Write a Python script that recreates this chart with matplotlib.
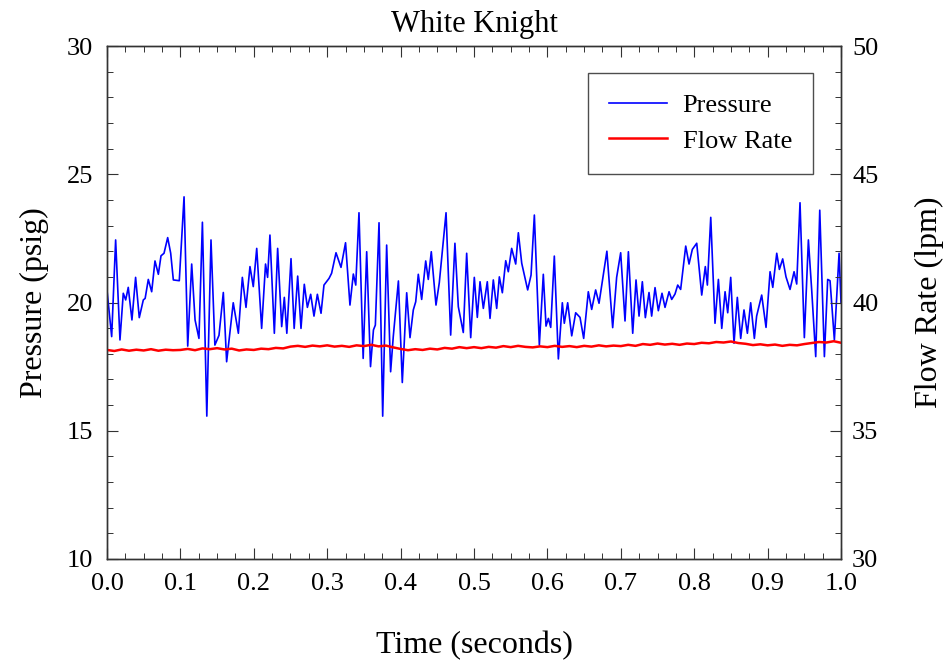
import numpy as np
import matplotlib
matplotlib.use("Agg")
import matplotlib.pyplot as plt
from matplotlib.ticker import MultipleLocator

plt.rcParams['font.family'] = ['Liberation Serif', 'DejaVu Serif']

# pressure trace (time s, psig)
p_time = [0.0, 0.0064, 0.0118, 0.0177, 0.0222, 0.0255, 0.029, 0.034, 0.039, 0.044,
          0.0495, 0.052, 0.0563, 0.0609, 0.0654, 0.070, 0.0736, 0.0777, 0.0827, 0.0868,
          0.0904, 0.0985, 0.105, 0.110, 0.1154, 0.120, 0.1253, 0.130, 0.136, 0.1417,
          0.147, 0.1526, 0.1585, 0.163, 0.172, 0.179, 0.1844, 0.1894, 0.1948, 0.1993,
          0.204, 0.2107, 0.216, 0.2188, 0.222, 0.228, 0.2325, 0.238, 0.2416, 0.245,
          0.2507, 0.255, 0.2598, 0.2643, 0.2688, 0.273, 0.2775, 0.282, 0.2866, 0.2916,
          0.2956, 0.3025, 0.306, 0.312, 0.3188, 0.325, 0.331, 0.3356, 0.3389, 0.3433,
          0.349, 0.3538, 0.359, 0.363, 0.3656, 0.3706, 0.3756, 0.381, 0.3864, 0.390,
          0.397, 0.4023, 0.4083, 0.4128, 0.4173, 0.4206, 0.4241, 0.4287, 0.4342, 0.4377,
          0.4418, 0.4482, 0.4527, 0.4619, 0.4682, 0.474, 0.4786, 0.4854, 0.490, 0.4955,
          0.5004, 0.5045, 0.5082, 0.5127, 0.5181, 0.5218, 0.5263, 0.5309, 0.5345, 0.5386,
          0.5432, 0.5467, 0.5513, 0.5568, 0.5604, 0.565, 0.5731, 0.5777, 0.5822, 0.589,
          0.5944, 0.5981, 0.6013, 0.6045, 0.6094, 0.6149, 0.6203, 0.623, 0.6276, 0.6331,
          0.6385, 0.6444, 0.6494, 0.6557, 0.6603, 0.6657, 0.6703, 0.681, 0.6889, 0.6943,
          0.6998, 0.7057, 0.7103, 0.7162, 0.7207, 0.7248, 0.7293, 0.7334, 0.7384, 0.742,
          0.7466, 0.7511, 0.7561, 0.7602, 0.7657, 0.7693, 0.7738, 0.7775, 0.7815, 0.7884,
          0.7929, 0.7974, 0.8034, 0.8102, 0.8151, 0.8179, 0.8225, 0.8283, 0.8329, 0.8375,
          0.842, 0.8456, 0.8497, 0.8542, 0.8587, 0.8633, 0.8678, 0.8724, 0.8769, 0.8819,
          0.885, 0.8919, 0.8978, 0.9033, 0.907, 0.9124, 0.916, 0.9205, 0.925, 0.9305,
          0.936, 0.9396, 0.9441, 0.950, 0.9555, 0.960, 0.9655, 0.971, 0.9773, 0.9818,
          0.985, 0.9909, 0.9973, 1.0]
pressure = [20.49, 18.67, 22.44, 18.54, 20.36, 20.10, 20.59, 19.32, 20.98, 19.41,
            20.10, 20.16, 20.90, 20.42, 21.62, 21.10, 21.82, 21.92, 22.53, 21.92,
            20.88, 20.85, 24.12, 18.30, 21.50, 19.32, 18.60, 23.13, 15.57, 22.44,
            18.34, 18.72, 20.39, 17.69, 19.99, 18.80, 20.98, 19.81, 21.40, 20.62,
            22.11, 18.99, 21.50, 20.98, 22.63, 18.80, 22.11, 19.06, 20.20, 18.80,
            21.71, 18.99, 21.03, 18.99, 20.71, 19.81, 20.32, 19.47, 20.32, 19.58,
            20.68, 20.94, 21.14, 21.94, 21.37, 22.33, 19.90, 21.11, 20.68, 23.50,
            17.82, 21.98, 17.50, 18.93, 19.12, 23.11, 15.57, 22.24, 17.30, 18.67,
            20.84, 16.88, 20.38, 18.63, 19.71, 20.03, 21.10, 20.12, 21.62, 20.90,
            21.98, 19.90, 20.77, 23.50, 18.73, 22.31, 19.84, 18.83, 21.92, 18.63,
            20.98, 19.42, 20.81, 19.77, 20.81, 19.38, 20.88, 19.77, 21.00, 20.38,
            21.63, 21.20, 22.11, 21.50, 22.72, 21.53, 20.49, 21.07, 23.41, 18.34,
            21.10, 19.08, 19.38, 19.03, 21.81, 17.80, 19.99, 19.19, 19.99, 18.70,
            19.60, 19.42, 18.60, 20.42, 19.73, 20.49, 19.97, 22.00, 19.02, 20.98,
            21.94, 19.28, 21.98, 18.80, 20.88, 19.47, 20.81, 19.41, 20.39, 19.47,
            20.58, 19.68, 20.36, 19.81, 20.42, 20.12, 20.33, 20.68, 20.51, 22.20,
            21.50, 22.07, 22.31, 20.29, 21.40, 20.68, 23.32, 19.19, 20.90, 18.99,
            20.42, 19.60, 20.98, 18.41, 20.20, 18.60, 19.71, 18.80, 19.99, 18.60,
            19.47, 20.29, 19.03, 21.20, 20.59, 21.92, 21.29, 21.70, 21.00, 20.51,
            21.20, 20.72, 23.89, 18.63, 22.44, 20.49, 17.89, 23.60, 17.89, 20.90,
            20.85, 18.54, 21.92, 19.97]

# flow rate, sampled every 0.01 s (lpm)
flow = [38.15, 38.11, 38.17, 38.12, 38.16, 38.13, 38.18, 38.12, 38.16, 38.14,
        38.15, 38.19, 38.14, 38.21, 38.18, 38.22, 38.17, 38.20, 38.13, 38.17,
        38.15, 38.20, 38.18, 38.23, 38.21, 38.28, 38.31, 38.27, 38.32, 38.29,
        38.33, 38.28, 38.31, 38.27, 38.33, 38.30, 38.35, 38.29, 38.32, 38.25,
        38.19, 38.14, 38.18, 38.15, 38.20, 38.17, 38.23, 38.20, 38.26, 38.22,
        38.26, 38.22, 38.27, 38.24, 38.30, 38.26, 38.31, 38.27, 38.25, 38.29,
        38.26, 38.31, 38.27, 38.30, 38.26, 38.31, 38.28, 38.33, 38.29, 38.32,
        38.30, 38.35, 38.31, 38.38, 38.35, 38.40, 38.36, 38.39, 38.35, 38.40,
        38.38, 38.43, 38.41, 38.46, 38.44, 38.48, 38.42, 38.39, 38.34, 38.37,
        38.33, 38.36, 38.31, 38.35, 38.33, 38.38, 38.42, 38.46, 38.44, 38.49,
        38.43]
f_time = np.arange(len(flow)) / 100.0

fig = plt.figure(figsize=(9.45, 6.68), dpi=100)
ax = fig.add_axes([0.1132, 0.1632, 0.7768, 0.7679])
ax2 = ax.twinx()

l1, = ax.plot(p_time, pressure, color='#0000ff', lw=1.2, label='Pressure')
l2, = ax2.plot(f_time, flow, color='#ff0000', lw=1.8, label='Flow Rate')

ax.set_xlim(0, 1)
ax.set_ylim(10, 30)
ax2.set_ylim(30, 50)
ax.xaxis.set_minor_locator(MultipleLocator(0.025))
ax.yaxis.set_major_locator(MultipleLocator(5))
ax.yaxis.set_minor_locator(MultipleLocator(1))
ax2.yaxis.set_major_locator(MultipleLocator(5))
ax2.yaxis.set_minor_locator(MultipleLocator(1))
ax.set_xticks(np.arange(0, 1.01, 0.1))
ax.set_xticklabels([f'{v:.1f}' for v in np.arange(0, 1.01, 0.1)])

for a in (ax, ax2):
    a.tick_params(which='both', direction='in', labelsize=19, color='#333333')
    a.tick_params(which='major', length=8, width=0.8)
    a.tick_params(which='minor', length=4, width=0.7)
    for s in a.spines.values():
        s.set_color('#333333')
        s.set_linewidth(1.0)
ax.tick_params(which='both', top=True, left=True, right=False)
ax.tick_params(axis='y', pad=10)
ax.tick_params(axis='x', pad=10)
ax2.tick_params(which='both', right=True, pad=8)

ax.set_title('White Knight', fontsize=22, pad=10)
ax.set_xlabel('Time (seconds)', fontsize=23, labelpad=26)
ax.set_ylabel('Pressure (psig)', fontsize=23, labelpad=13)
ax2.set_ylabel('Flow Rate (lpm)', fontsize=23, labelpad=26)

leg = ax.legend(handles=[l1, l2], loc='upper right', bbox_to_anchor=(0.962, 0.948),
                fontsize=19, frameon=True, fancybox=False, handlelength=2.2,
                handletextpad=0.6, borderpad=0.8, labelspacing=0.45,
                borderaxespad=0.0)
leg.get_frame().set_edgecolor('#222222')
leg.get_frame().set_linewidth(1.0)

fig.savefig('out.png', dpi=100)
